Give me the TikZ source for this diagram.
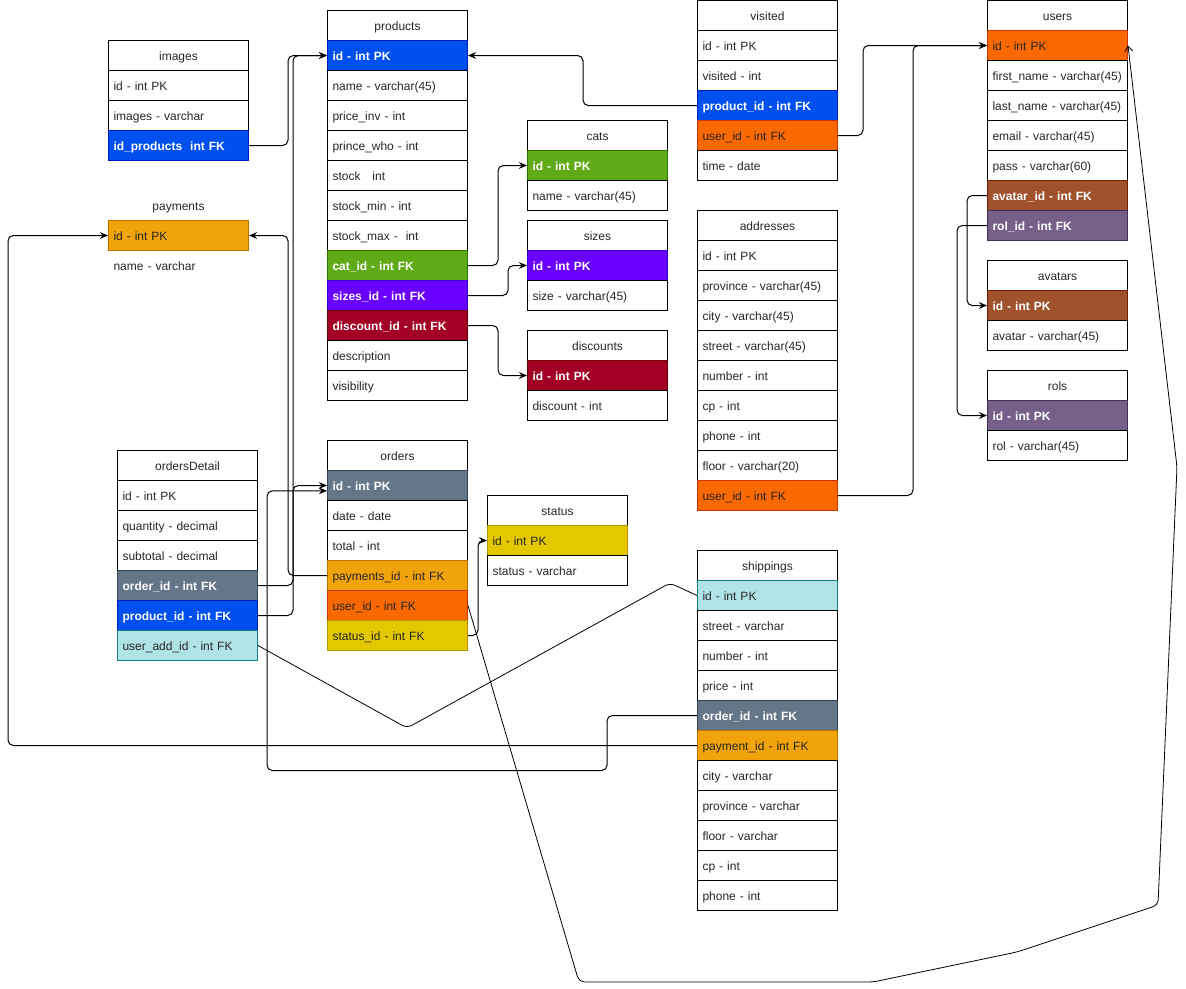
\documentclass[tikz,border=0pt]{standalone}
\usepackage{fontspec}
\setmainfont{Liberation Sans}
\usepackage{xcolor}
\usetikzlibrary{arrows.meta}

\definecolor{cBlue}{HTML}{0050EF}   \definecolor{cBlueD}{HTML}{001DBC}
\definecolor{cGreen}{HTML}{60A917}  \definecolor{cGreenD}{HTML}{2D7600}
\definecolor{cViolet}{HTML}{6A00FF} \definecolor{cVioletD}{HTML}{3700CC}
\definecolor{cRed}{HTML}{A20025}    \definecolor{cRedD}{HTML}{6F0000}
\definecolor{cOrange}{HTML}{FA6800} \definecolor{cOrangeD}{HTML}{C73500}
\definecolor{cAmber}{HTML}{F0A30A}  \definecolor{cAmberD}{HTML}{BD7000}
\definecolor{cYellow}{HTML}{E3C800} \definecolor{cYellowD}{HTML}{B09500}
\definecolor{cBrown}{HTML}{A0522D}  \definecolor{cBrownD}{HTML}{6D1F00}
\definecolor{cPlum}{HTML}{76608A}   \definecolor{cPlumD}{HTML}{432D57}
\definecolor{cSlate}{HTML}{647687}  \definecolor{cSlateD}{HTML}{314354}
\definecolor{cCyan}{HTML}{B0E3E6}   \definecolor{cCyanD}{HTML}{0E8088}

\begin{document}
\begin{tikzpicture}[x=0.75pt,y=-0.75pt,>=Stealth,
    font=\fontsize{9}{11}\selectfont,
    cell/.style={draw, line width=0.75pt, anchor=north west, minimum height=22.5pt,
      text width=97.5pt, text height=9pt, text depth=1pt, inner xsep=3.75pt,
      inner ysep=0pt, align=left, text=black!85},
    head/.style={cell, align=center},
    bare/.style={cell, draw=none},
    dk/.style 2 args={cell, fill=#1, draw=#2, text=white, font=\fontsize{9}{11}\selectfont\bfseries},
    lt/.style 2 args={cell, fill=#1, draw=#2},
    keyBlue/.style={dk={cBlue}{cBlueD}},
    keyGreen/.style={dk={cGreen}{cGreenD}},
    keyViolet/.style={dk={cViolet}{cVioletD}},
    keyRed/.style={dk={cRed}{cRedD}},
    keyBrown/.style={dk={cBrown}{cBrownD}},
    keyPlum/.style={dk={cPlum}{cPlumD}},
    keySlate/.style={dk={cSlate}{cSlateD}},
    keyOrange/.style={lt={cOrange}{cOrangeD}},
    keyAmber/.style={lt={cAmber}{cAmberD}},
    keyYellow/.style={lt={cYellow}{cYellowD}},
    keyCyan/.style={lt={cCyan}{cCyanD}},
    link/.style={line width=0.75pt, rounded corners=4pt, -{Stealth[length=6pt,width=5pt]}},
    plain/.style={line width=0.6pt, rounded corners=4pt}]

  \useasboundingbox (0,0) rectangle (1186,989);

  % images
  \node[head] (images) at (108,40) {images};
  \node[cell] (img-id) at (108,70) {id - int PK};
  \node[cell] (img-img) at (108,100) {images - varchar};
  \node[keyBlue] (img-fk) at (108,130) {id\_products\ \ int FK};

  % payments (no frame)
  \node[bare, align=center] (payments) at (108,190) {payments};
  \node[keyAmber] (pay-id) at (108,220) {id - int PK};
  \node[bare] (pay-name) at (108,250) {name - varchar};

  % products
  \node[head] (products) at (327,10) {products};
  \node[keyBlue] (prod-id) at (327,40) {id - int PK};
  \foreach \row [count=\i] in {name - varchar(45), price\_inv - int, prince\_who - int,
      stock\ \ \ int, stock\_min - int, stock\_max -\ \ int}
    \node[cell] (prod-a\i) at (327,{40+30*\i}) {\row};
  \node[keyGreen] (prod-cat) at (327,250) {cat\_id - int FK};
  \node[keyViolet] (prod-size) at (327,280) {sizes\_id - int FK};
  \node[keyRed] (prod-disc) at (327,310) {discount\_id - int FK};
  \foreach \row [count=\i] in {description, visibility}
    \node[cell] (prod-b\i) at (327,{310+30*\i}) {\row};

  % cats, sizes, discounts
  \node[head] (cats) at (527,120) {cats};
  \node[keyGreen] (cats-id) at (527,150) {id - int PK};
  \node[cell] (cats-name) at (527,180) {name - varchar(45)};
  \node[head] (sizes) at (527,220) {sizes};
  \node[keyViolet] (sizes-id) at (527,250) {id - int PK};
  \node[cell] (sizes-size) at (527,280) {size - varchar(45)};
  \node[head] (discounts) at (527,330) {discounts};
  \node[keyRed] (disc-id) at (527,360) {id - int PK};
  \node[cell] (disc-val) at (527,390) {discount - int};

  % visited
  \node[head] (visited) at (697,0) {visited};
  \node[cell] (vis-id) at (697,30) {id - int PK};
  \node[cell] (vis-num) at (697,60) {visited - int};
  \node[keyBlue] (vis-prod) at (697,90) {product\_id - int FK};
  \node[keyOrange] (vis-user) at (697,120) {user\_id - int FK};
  \node[cell] (vis-time) at (697,150) {time - date};

  % addresses
  \node[head] (addresses) at (697,210) {addresses};
  \foreach \row [count=\i] in {id - int PK, province - varchar(45), city - varchar(45),
      street - varchar(45), number - int, cp - int, phone - int, floor - varchar(20)}
    \node[cell] (addr-\i) at (697,{210+30*\i}) {\row};
  \node[keyOrange] (addr-user) at (697,480) {user\_id - int FK};

  % users
  \node[head] (users) at (987,0) {users};
  \node[keyOrange] (users-id) at (987,30) {id - int PK};
  \foreach \row [count=\i] in {first\_name - varchar(45), last\_name - varchar(45),
      email - varchar(45), pass - varchar(60)}
    \node[cell] (users-\i) at (987,{30+30*\i}) {\row};
  \node[keyBrown] (users-avatar) at (987,180) {avatar\_id - int FK};
  \node[keyPlum] (users-rol) at (987,210) {rol\_id - int FK};

  % avatars, rols
  \node[head] (avatars) at (987,260) {avatars};
  \node[keyBrown] (avatars-id) at (987,290) {id - int PK};
  \node[cell] (avatars-name) at (987,320) {avatar - varchar(45)};
  \node[head] (rols) at (987,370) {rols};
  \node[keyPlum] (rols-id) at (987,400) {id - int PK};
  \node[cell] (rols-name) at (987,430) {rol - varchar(45)};

  % ordersDetail
  \node[head] (ordersDetail) at (117,450) {ordersDetail};
  \foreach \row [count=\i] in {id - int PK, quantity - decimal, subtotal - decimal}
    \node[cell] (od-\i) at (117,{450+30*\i}) {\row};
  \node[keySlate] (od-order) at (117,570) {order\_id - int FK};
  \node[keyBlue] (od-prod) at (117,600) {product\_id - int FK};
  \node[keyCyan] (od-useradd) at (117,630) {user\_add\_id - int FK};

  % orders
  \node[head] (orders) at (327,440) {orders};
  \node[keySlate] (ord-id) at (327,470) {id - int PK};
  \node[cell] (ord-date) at (327,500) {date - date};
  \node[cell] (ord-total) at (327,530) {total - int};
  \node[keyAmber] (ord-pay) at (327,560) {payments\_id - int FK};
  \node[keyOrange] (ord-user) at (327,590) {user\_id - int FK};
  \node[keyYellow] (ord-status) at (327,620) {status\_id - int FK};

  % status
  \node[head] (status) at (487,495) {status};
  \node[keyYellow] (status-id) at (487,525) {id - int PK};
  \node[cell] (status-name) at (487,555) {status - varchar};

  % shippings
  \node[head] (shippings) at (697,550) {shippings};
  \node[keyCyan] (ship-id) at (697,580) {id - int PK};
  \foreach \row [count=\i] in {street - varchar, number - int, price - int}
    \node[cell] (ship-a\i) at (697,{580+30*\i}) {\row};
  \node[keySlate] (ship-order) at (697,700) {order\_id - int FK};
  \node[keyAmber] (ship-pay) at (697,730) {payment\_id - int FK};
  \foreach \row [count=\i] in {city - varchar, province - varchar, floor - varchar,
      cp - int, phone - int}
    \node[cell] (ship-b\i) at (697,{730+30*\i}) {\row};

  % relations
  \draw[link] (img-fk.east) -- ++(39,0) |- (prod-id.west);
  \draw[link] (od-prod.east) -- ++(35,0) |- (prod-id.west);
  \draw[link] (ord-pay.west) -- ++(-39,0) |- (pay-id.east);
  \draw[link] (od-order.east) -- ++(35,0) |- (ord-id.west);
  \draw[link] (ship-order.west) -- ++(-90,0) -- ++(0,55) -- ++(-340,0) |- ([yshift=-4pt]ord-id.west);
  \draw[link] (ship-pay.west) -- ++(-689,0) |- (pay-id.west);
  \draw[link] (ord-status.east) -- ++(10,0) |- (status-id.west);
  \draw[link] (prod-cat.east) -- ++(30,0) |- (cats-id.west);
  \draw[link] (prod-size.east) -- ++(40,0) |- (sizes-id.west);
  \draw[link] (prod-disc.east) -- ++(30,0) |- (disc-id.west);
  \draw[link] (vis-prod.west) -- ++(-114,0) |- (prod-id.east);
  \draw[link] (vis-user.east) -- ++(25,0) |- (users-id.west);
  \draw[link] (addr-user.east) -- ++(75,0) |- (users-id.west);
  \draw[link] (users-avatar.west) -- ++(-20,0) |- (avatars-id.west);
  \draw[link] (users-rol.west) -- ++(-30,0) |- (rols-id.west);
  \draw[plain] (od-useradd.east) -- (407,728) -- (670,583) -- (ship-id.west);
  \draw[plain, -{Straight Barb[length=4pt,width=6pt]}] (ord-user.east) -- (579,982) -- (873,982)
    -- (1017,952) -- (1158,905) -- (1177,467) -- (users-id.east);

\end{tikzpicture}
\end{document}
